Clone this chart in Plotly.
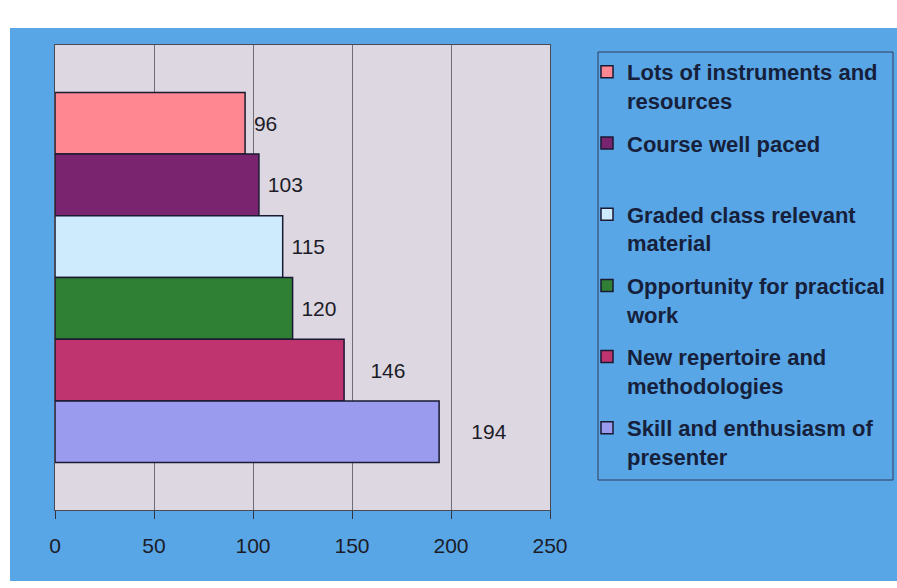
import plotly.graph_objects as go

# Survey responses: what participants valued about the course
reasons = [
    "Lots of instruments and<br>resources",
    "Course well paced<br>\u00a0",
    "Graded class relevant<br>material",
    "Opportunity for practical<br>work",
    "New repertoire and<br>methodologies",
    "Skill and enthusiasm of<br>presenter",
]
counts = [96, 103, 115, 120, 146, 194]
bar_colors = ["#FF8791", "#7A2470", "#CDEBFD", "#2F7F35", "#BF336F", "#9A9AEE"]
x_ticks = [0, 50, 100, 150, 200, 250]

# non-breaking spaces in front of each value label
label_pad = [1, 1, 1, 1, 4, 5]

FONT = "Arial, Liberation Sans, sans-serif"
TEXT = "#1c1c28"
BLUE = "#58A6E6"

fig = go.Figure()
for i, (name, val, col, pad) in enumerate(zip(reasons, counts, bar_colors, label_pad)):
    fig.add_trace(go.Bar(
        name=name,
        x=[val],
        y=[""],
        orientation="h",
        marker=dict(color=col, line=dict(color="#1a1a33", width=1.5)),
        text=[val],
        texttemplate="\u00a0" * pad + "%{x}",
        textposition="outside",
        constraintext="none",
        cliponaxis=False,
        outsidetextfont=dict(family=FONT, size=21, color=TEXT),
        legendgroup=f"g{i}",
        hoverinfo="skip",
    ))

# plot-area geometry in pixels
L, R, T, B = 55, 347, 45, 78
W, H = 897 - L - R, 588 - T - B

def px(xp):
    return (xp - L) / W

def py(yp):
    return (588 - B - yp) / H

white_strips = [
    (px(0), px(10), py(588), py(0)),     # left margin
    (px(0), px(897), py(28), py(0)),     # top margin
    (px(0), px(897), py(588), py(581)),  # bottom margin
]
shapes = [
    dict(type="rect", xref="paper", yref="paper", x0=a, x1=b, y0=c, y1=d,
         fillcolor="white", line=dict(width=0), layer="above")
    for a, b, c, d in white_strips
]
# legend frame
shapes.append(dict(type="rect", xref="paper", yref="paper",
                   x0=px(598), x1=px(893), y0=py(480), y1=py(52),
                   line=dict(color="#2e3e5e", width=1), fillcolor="rgba(0,0,0,0)",
                   layer="above"))

fig.update_layout(
    width=897,
    height=588,
    margin=dict(l=L, r=R, t=T, b=B, pad=0, autoexpand=False),
    paper_bgcolor=BLUE,
    plot_bgcolor="#DCD7E1",
    barmode="group",
    bargap=0.204,
    bargroupgap=0,
    showlegend=True,
    font=dict(family=FONT, color=TEXT),
    xaxis=dict(
        range=[0, 250],
        tickvals=x_ticks,
        ticktext=[str(t) for t in x_ticks],
        ticks="outside",
        ticklen=8,
        tickcolor="#333344",
        tickfont=dict(family=FONT, size=21, color=TEXT),
        ticklabelstandoff=9,
        showgrid=True,
        gridcolor="#6e6e78",
        gridwidth=1,
        showline=True,
        linecolor="#4a4a55",
        linewidth=1.2,
        mirror=True,
        zeroline=False,
        fixedrange=True,
    ),
    yaxis=dict(
        type="category",
        autorange="reversed",
        showticklabels=False,
        ticks="",
        showgrid=False,
        showline=True,
        linecolor="#4a4a55",
        linewidth=1.2,
        mirror=True,
        fixedrange=True,
    ),
    legend=dict(
        x=px(587),
        y=py(51),
        xanchor="left",
        yanchor="top",
        bgcolor="rgba(0,0,0,0)",
        borderwidth=0,
        font=dict(family=FONT, size=22, color="#16203a", weight="bold"),
        valign="top",
        traceorder="grouped",
        tracegroupgap=11,
        itemwidth=30,
        itemclick=False,
        itemdoubleclick=False,
    ),
    shapes=shapes,
)

fig.write_html("out.html", config={"displayModeBar": False})
